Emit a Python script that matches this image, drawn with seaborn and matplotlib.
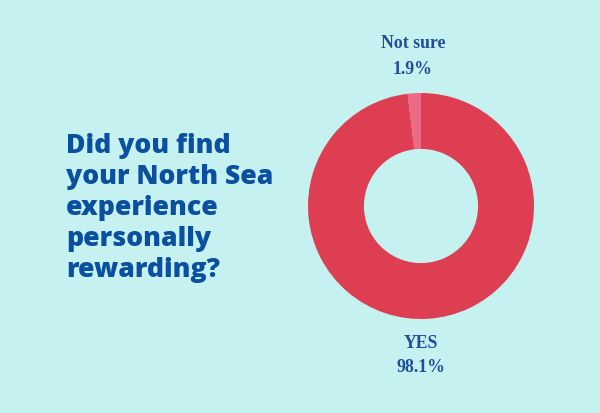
import matplotlib
matplotlib.use("Agg")
import matplotlib.pyplot as plt
import seaborn as sns

# answers to the survey question
answers = ["Not sure", "YES"]
shares = [1.9, 98.1]
slice_colors = ["#EE6A84", "#DD3E52"]

question = "Did you find\nyour North Sea\nexperience\npersonally\nrewarding?"

bg = "#C5F2F0"
text_blue = "#0B4FA0"

sns.set_theme(style="white")
plt.rcParams["font.family"] = ["Open Sans", "DejaVu Sans"]

fig = plt.figure(figsize=(6, 4.13), dpi=100)
fig.patch.set_facecolor(bg)

# question text on the left
fig.text(66 / 600, 0.497, question, ha="left", va="center", fontsize=19.2,
         fontweight="heavy", color=text_blue, linespacing=1.25)

# donut on the right
ax = fig.add_axes([(421 - 113) / 600, (207 - 113) / 413, 226 / 600, 226 / 413])
ax.set_facecolor(bg)
ax.pie(shares, colors=sns.color_palette(slice_colors), startangle=90,
       counterclock=True, radius=1.0,
       wedgeprops=dict(width=0.495, edgecolor="none"))
ax.set_xlim(-1, 1)
ax.set_ylim(-1, 1)
ax.set_aspect("equal")
ax.axis("off")

lab_font = dict(family=["Liberation Serif", "DejaVu Serif"], fontweight="bold",
                fontsize=12.8, color="#1F4E9E", ha="center", va="center")
fig.text(413 / 600, 1 - 44 / 413, answers[0], **lab_font)
fig.text(413 / 600, 1 - 70 / 413, f"{shares[0]}%", **lab_font)
fig.text(421 / 600, 1 - 343 / 413, answers[1], **lab_font)
fig.text(421 / 600, 1 - 368 / 413, f"{shares[1]}%", **lab_font)

fig.savefig("out.png", dpi=100, facecolor=bg)
